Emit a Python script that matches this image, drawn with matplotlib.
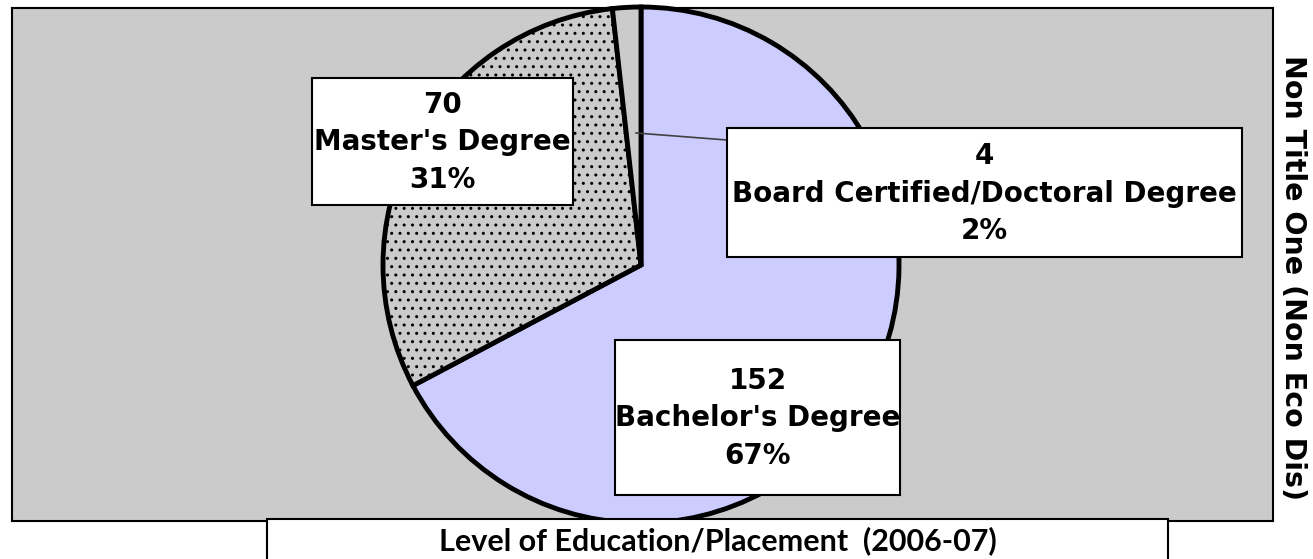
import matplotlib.pyplot as plt
from matplotlib.patches import Rectangle

# data
categories = ["Bachelor's Degree", "Master's Degree", "Board Certified/Doctoral Degree"]
counts = [152, 70, 4]
percents = ["67%", "31%", "2%"]

plt.rcParams['font.family'] = ['DejaVu Sans']
plt.rcParams['hatch.color'] = '#8a8a8a'
plt.rcParams['hatch.linewidth'] = 1.0

fig = plt.figure(figsize=(13.13, 5.59), dpi=100)
# axes in pixel-like units: 1 unit = 1 px
ax = fig.add_axes([12 / 1313, 1 - 521 / 559, 1261 / 1313, 513 / 559])
W, H = 1261, 513

def px(x, y):
    # figure pixel -> data coords
    return x - 12, 521 - y

wedges, _ = ax.pie(counts, startangle=90, counterclock=False,
                   colors=['#ccccff', '#cbcbcb', '#cbcbcb'],
                   center=px(641, 265), radius=258, frame=True,
                   wedgeprops=dict(edgecolor='black', linewidth=3.5))
wedges[1].set_hatch('..')

ax.set_xlim(0, W)
ax.set_ylim(0, H)
ax.set_aspect('auto')
ax.set_facecolor('#cbcbcb')
ax.set_xticks([])
ax.set_yticks([])
for s in ax.spines.values():
    s.set_linewidth(1.5)

# label boxes (pixel rectangles from the picture)
boxes = {1: (312, 78, 573, 205), 2: (727, 128, 1242, 257), 0: (615, 340, 900, 495)}
for i, (x0, y0, x1, y1) in boxes.items():
    a, b = px(x0, y1)
    ax.add_patch(Rectangle((a, b), x1 - x0, y1 - y0, facecolor='white',
                           edgecolor='black', linewidth=1.5, zorder=5))
    cx, cy = px((x0 + x1) / 2, (y0 + y1) / 2 + 1)
    ax.text(cx, cy, f"{counts[i]}\n{categories[i]}\n{percents[i]}",
            ha='center', va='center', fontsize=20, fontweight='bold',
            linespacing=1.45, zorder=6)

# leader line for the small slice
ax.plot(*zip(px(636, 133), px(727, 140)), color='#404040', lw=1.2, zorder=4)

# bottom title box
bx0, bx1 = 267 / 1313, 1168 / 1313
fig.patches.append(Rectangle((bx0, 0 - 0.01), bx1 - bx0, 1 - 519 / 559 + 0.01,
                             transform=fig.transFigure, facecolor='white',
                             edgecolor='black', linewidth=1.5))
fig.text((bx0 + bx1) / 2, 1 - 541 / 559, "Level of Education/Placement  (2006-07)",
         ha='center', va='center', fontsize=22, fontweight='bold',
         family=['Lato', 'DejaVu Sans'])

fig.text(1293 / 1313, 1 - 278 / 559, "Non Title One (Non Eco Dis)",
         rotation=-90, ha='center', va='center', fontsize=20.5,
         fontweight='bold')

plt.savefig("out.png", dpi=100)
